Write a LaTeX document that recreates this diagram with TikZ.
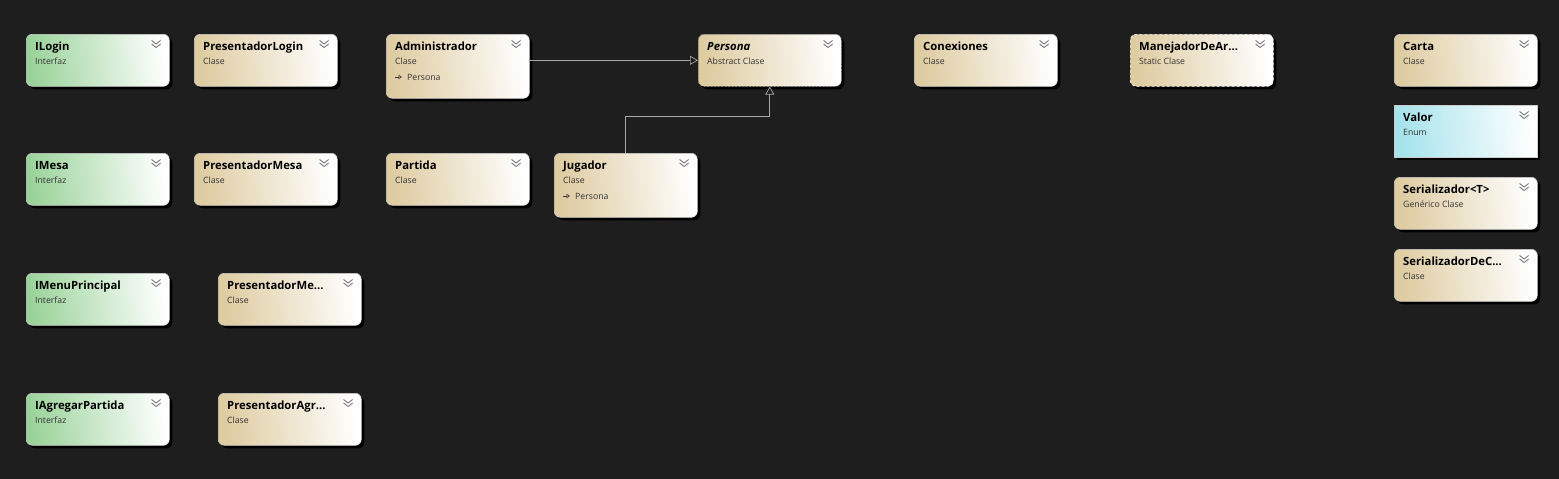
\documentclass[tikz,border=0pt]{standalone}
\usepackage{fontspec}
\setmainfont{Open Sans}
\usetikzlibrary{shadows,arrows.meta,calc}
\definecolor{bg}{HTML}{1E1E1E}
\definecolor{tan}{HTML}{DECBA0}
\definecolor{grn}{HTML}{9AD39A}
\definecolor{cyn}{HTML}{A6E3EC}
\definecolor{sub}{HTML}{333333}
\definecolor{chev}{HTML}{6E6E6E}
\definecolor{conn}{HTML}{A8A8A8}
\tikzset{
  box/.style={rounded corners=6pt, minimum width=143pt, inner sep=0pt,
    draw=white!80!black, line width=0.6pt,
    drop shadow={shadow xshift=3pt, shadow yshift=-3pt, fill=black, opacity=1}},
  cls/.style={box, left color=tan, right color=white, shading angle=97},
  intf/.style={box, left color=grn, right color=white, shading angle=97},
  enm/.style={box, rounded corners=0pt, left color=cyn, right color=white, shading angle=97},
  dashbox/.style={dashed, dash pattern=on 3pt off 2pt, draw=white},
  absbox/.style={dashed, dash pattern=on 2pt off 1.5pt, draw=white!65!black},
  ttl/.style={font=\fontsize{11.3}{13}\selectfont\bfseries, text=black, inner sep=0pt},
  stl/.style={font=\fontsize{8.7}{10}\selectfont, text=sub, inner sep=0pt},
  inh/.style={draw=conn, line width=0.7pt, -{Triangle[open, length=8pt, width=9pt]}}
}
\newcommand\umlbox[7]{%
  \node[#5, minimum height=#4pt, anchor=north west] (#1) at (#2,#3) {};
  \node[ttl, anchor=base west] (#1-t) at ([xshift=9pt,yshift=-16pt]#1.north west) {#6};
  \node[stl, anchor=base west] (#1-s) at ([xshift=9pt,yshift=-30.5pt]#1.north west) {#7};
  \draw[chev, line width=0.8pt] ([xshift=-18pt,yshift=-6.5pt]#1.north east) -- ++(4.5pt,-3.5pt) -- ++(4.5pt,3.5pt)
     ([xshift=-18pt,yshift=-10pt]#1.north east) -- ++(4.5pt,-3.5pt) -- ++(4.5pt,3.5pt);
}
\newcommand\umlbase[2]{%
  \draw[sub, line width=0.6pt, -{Triangle[open, length=3.5pt, width=4.5pt]}] ([xshift=9pt,yshift=-43pt]#1.north west) -- ++(7pt,0);
  \node[stl, anchor=base west] (#1-b) at ([xshift=21pt,yshift=-46.5pt]#1.north west) {#2};
}
\begin{document}
\begin{tikzpicture}[x=1pt,y=-1pt]
\fill[bg] (0,0) rectangle (1559,479);
\useasboundingbox (0,0) rectangle (1559,479);
% column 1
\umlbox{ilogin}{26}{34}{52}{intf}{ILogin}{Interfaz}
\umlbox{imesa}{26}{153}{52}{intf}{IMesa}{Interfaz}
\umlbox{imenu}{26}{273}{52}{intf}{IMenuPrincipal}{Interfaz}
\umlbox{iagregar}{26}{393}{52}{intf}{IAgregarPartida}{Interfaz}
% column 2
\umlbox{plogin}{194}{34}{52}{cls}{PresentadorLogin}{Clase}
\umlbox{pmesa}{194}{153}{52}{cls}{PresentadorMesa}{Clase}
\umlbox{pmenu}{218}{273}{52}{cls}{PresentadorMe...}{Clase}
\umlbox{pagr}{218}{393}{52}{cls}{PresentadorAgr...}{Clase}
% middle
\umlbox{admin}{386}{34}{64}{cls}{Administrador}{Clase}
\umlbase{admin}{Persona}
\umlbox{partida}{386}{153}{52}{cls}{Partida}{Clase}
\umlbox{jugador}{554}{153}{64}{cls}{Jugador}{Clase}
\umlbase{jugador}{Persona}
\umlbox{persona}{698}{34}{52}{cls,absbox}{\itshape Persona}{Abstract Clase}
\umlbox{conex}{914}{34}{52}{cls}{Conexiones}{Clase}
\umlbox{manej}{1130}{34}{52}{cls,dashbox}{ManejadorDeAr...}{Static Clase}
% right column
\umlbox{carta}{1394}{34}{52}{cls}{Carta}{Clase}
\umlbox{valor}{1394}{105}{52}{enm}{Valor}{Enum}
\umlbox{serial}{1394}{177}{52}{cls}{Serializador<T>}{Genérico Clase}
\umlbox{serialc}{1394}{249}{52}{cls}{SerializadorDeC...}{Clase}
% inheritance
\draw[inh] (persona.west -| admin.east) -- (persona.west);
\draw[inh] (jugador.north) -- ++(0,-37) -| (persona.south);
\end{tikzpicture}
\end{document}
